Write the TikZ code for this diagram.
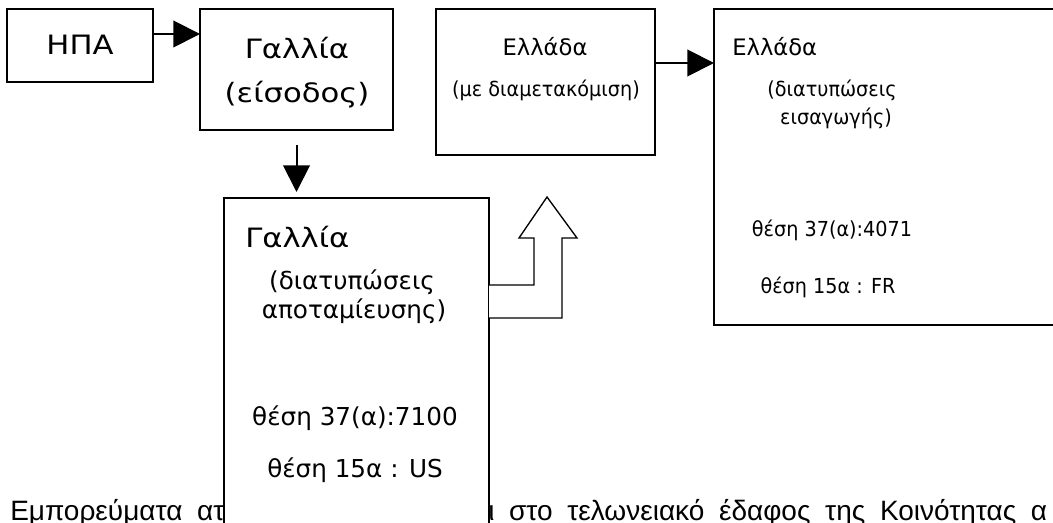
\documentclass[tikz,border=0pt]{standalone}
\usepackage{fontspec}
\setmainfont{DejaVu Sans}
\newfontfamily\widefont{DejaVu Sans}[FakeStretch=1.15]
\newfontfamily\narrowfont{DejaVu Sans}[FakeStretch=0.93]
\newfontfamily\linefont{Liberation Sans}
\newcommand{\linegaps}{\spaceskip=11pt\relax}
\usetikzlibrary{arrows.meta}
\newcommand{\px}{0.75pt}
\tikzset{
  box/.style={draw, line width=1.5pt, fill=white, inner sep=0pt, outer sep=0pt},
  big/.style={font=\widefont\fontsize{20}{23}\selectfont, inner sep=0pt},
  mid/.style={font=\fontsize{17}{20}\selectfont, inner sep=0pt},
  small/.style={font=\narrowfont\fontsize{15.5}{18}\selectfont, inner sep=0pt},
  note/.style={font=\fontsize{18.5}{21}\selectfont, inner sep=0pt},
  line/.style={font=\linefont\fontsize{21}{24}\selectfont\linegaps, inner sep=0pt, anchor=base west},
  arr/.style={line width=1.5pt, -{Triangle[length=20pt,width=20pt]}},
  hollow/.style={line width=1pt, fill=white}
}
\begin{document}
\begin{tikzpicture}[x=0.75pt,y=-0.75pt]
\useasboundingbox (0,0) rectangle (1053,523);
\clip (0,0) rectangle (1053,523);
% the sentence under the boxes
\node[line] (lineL) at (10,521) {Εμπορεύματα ατ};
\node[line] (lineR) at (488,521) {ι στο τελωνειακό έδαφος της Κοινότητας α};
% boxes
\node[box, minimum width=146*\px, minimum height=73*\px] (usa) at (80,45.5) {};
\node[box, minimum width=193*\px, minimum height=121*\px] (fr1) at (296.5,69.5) {};
\node[box, minimum width=219*\px, minimum height=146*\px] (gr1) at (545.5,82) {};
\node[box, minimum width=356*\px, minimum height=316*\px] (gr2) at (892,167) {};
\node[box, minimum width=265*\px, minimum height=342*\px] (gal2) at (356.5,369) {};
% texts
\node[big] (usat) at (80,45) {ΗΠΑ};
\node[big] (fr1a) at (297,48) {Γαλλία};
\node[big] (fr1b) at (297,95) {(είσοδος)};
\node[mid] (gr1a) at (545,47) {Ελλάδα};
\node[small] (gr1b) at (546,90) {(με διαμετακόμιση)};
\node[mid, anchor=west] (gr2a) at (732,47) {Ελλάδα};
\node[small] (gr2b) at (832,90) {(διατυπώσεις};
\node[small] (gr2c) at (836,118) {εισαγωγής)};
\node[small] (gr2d) at (832,230) {θέση 37(α):4071};
\node[small] (gr2e) at (828,287) {θέση 15α : FR};
\node[big, anchor=west] (gal2a) at (245,237) {Γαλλία};
\node[note] (gal2b) at (352,282) {(διατυπώσεις};
\node[note] (gal2c) at (354,311) {αποταμίευσης)};
\node[note] (gal2d) at (355,418) {θέση 37(α):7100};
\node[note] (gal2e) at (355,470) {θέση 15α : US};
% arrows
\draw[arr] ([yshift=-25*\px]usa.north east) -- ([yshift=-25*\px]fr1.north west);
\draw[arr, shorten <=15*\px, shorten >=6*\px] (fr1.south) -- (fr1.south |- gal2.north);
\draw[arr] ([yshift=-54*\px]gr1.north east) -- ([yshift=-54*\px]gr2.north west);
% hollow bent arrow up to gr1
\draw[hollow] ([yshift=-120*\px]gal2.north east) -- ++(73,0) -- ++(0,-80) -- ++(15,0)
  -- ++(-30,-41) -- ++(-28,41) -- ++(15,0) -- ++(0,47) -- ([yshift=-87*\px]gal2.north east);
\end{tikzpicture}
\end{document}
